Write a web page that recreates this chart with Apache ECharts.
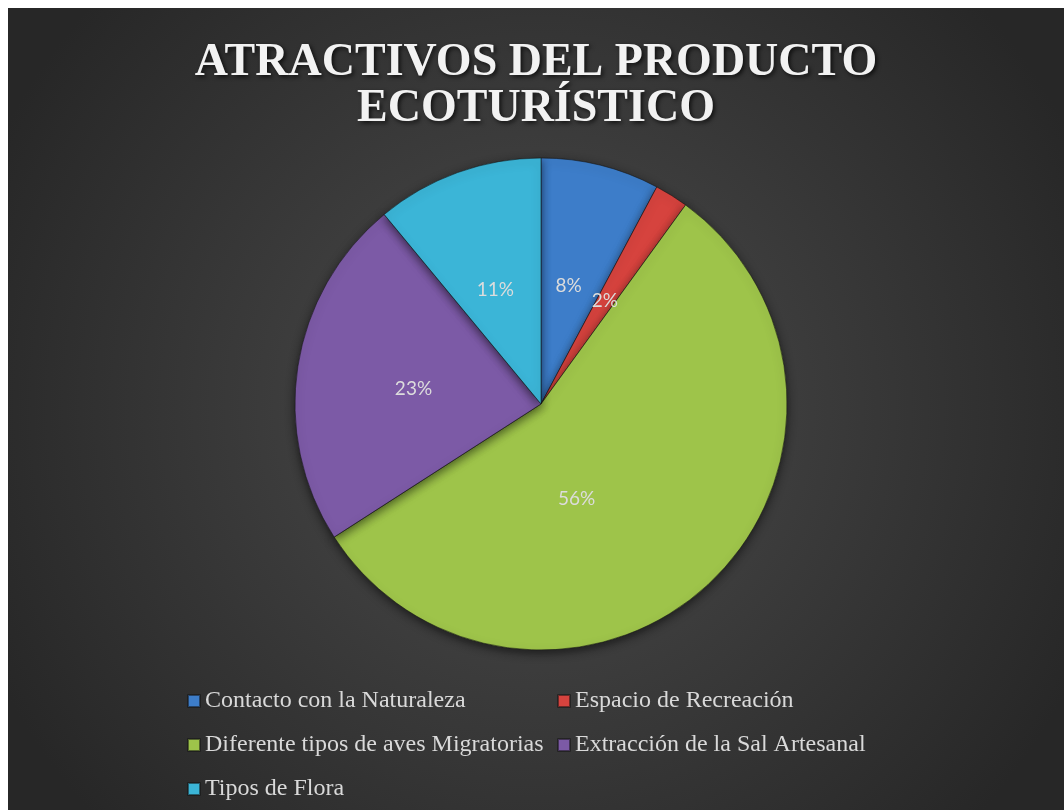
<!DOCTYPE html>
<html>
<head>
<meta charset="utf-8">
<style>
  html, body { margin: 0; padding: 0; background: #ffffff; }
  #chart { position: absolute; left: 8px; top: 8px; width: 1056px; height: 802px; }
</style>
</head>
<body>
<div id="chart"></div>
<script src="https://cdn.jsdelivr.net/npm/echarts@6/dist/echarts.min.js"></script>
<script>
// data (percent of answers)
const categories = [
  'Contacto con la Naturaleza',
  'Espacio de Recreación',
  'Diferente tipos de aves Migratorias',
  'Extracción de la Sal Artesanal',
  'Tipos de Flora'
]
const shares = [7.8, 2.2, 55.9, 23.1, 11.0]
const colors = ['#3d7dc9', '#d6433e', '#9ec44a', '#7c5aa6', '#3bb5d7']

const chart = echarts.init(document.getElementById('chart'))

chart.setOption({
  backgroundColor: {
    type: 'radial',
    x: 0.5, y: 0.5, r: 0.75,
    colorStops: [
      { offset: 0, color: '#4c4c4c' },
      { offset: 1, color: '#272727' }
    ]
  },
  title: {
    text: 'ATRACTIVOS DEL PRODUCTO\nECOTURÍSTICO',
    left: 'center',
    top: 27,
    textStyle: {
      fontFamily: 'Liberation Serif',
      fontWeight: 'bold',
      fontSize: 46,
      lineHeight: 46,
      color: '#f2f2f2',
      textShadowColor: 'rgba(0,0,0,0.7)',
      textShadowBlur: 4,
      textShadowOffsetX: 2,
      textShadowOffsetY: 2
    }
  },
  legend: {
    orient: 'horizontal',
    left: 179,
    top: 671,
    width: 760,
    padding: 0,
    itemGap: 0,
    itemWidth: 12,
    itemHeight: 12,
    itemTextGap: 3,
    icon: 'rect',
    data: categories,
    textStyle: {
      fontFamily: 'Liberation Serif',
      fontSize: 24,
      lineHeight: 44,
      color: '#d9d9d9',
      width: 352
    }
  },
  series: [{
    type: 'pie',
    center: [533, 396],
    radius: 246,
    startAngle: 90,
    clockwise: true,
    percentPrecision: 0,
    data: categories.map((name, i) => ({
      name,
      value: shares[i],
      itemStyle: { color: colors[i] },
      label: i === 2 ? { offset: [-51, 3] } : { offset: [-3, 4] }
    })),
    itemStyle: {
      borderColor: 'rgba(20,20,20,0.55)',
      borderWidth: 1,
      shadowColor: 'rgba(0,0,0,0.55)',
      shadowBlur: 10,
      shadowOffsetY: 3
    },
    label: {
      show: true,
      position: 'inside',
      formatter: '{d}%',
      fontFamily: 'Lato',
      fontSize: 19,
      color: '#dcdcdc'
    },
    labelLine: { show: false },
    emphasis: { disabled: true },
    animation: false
  }]
})
</script>
</body>
</html>
